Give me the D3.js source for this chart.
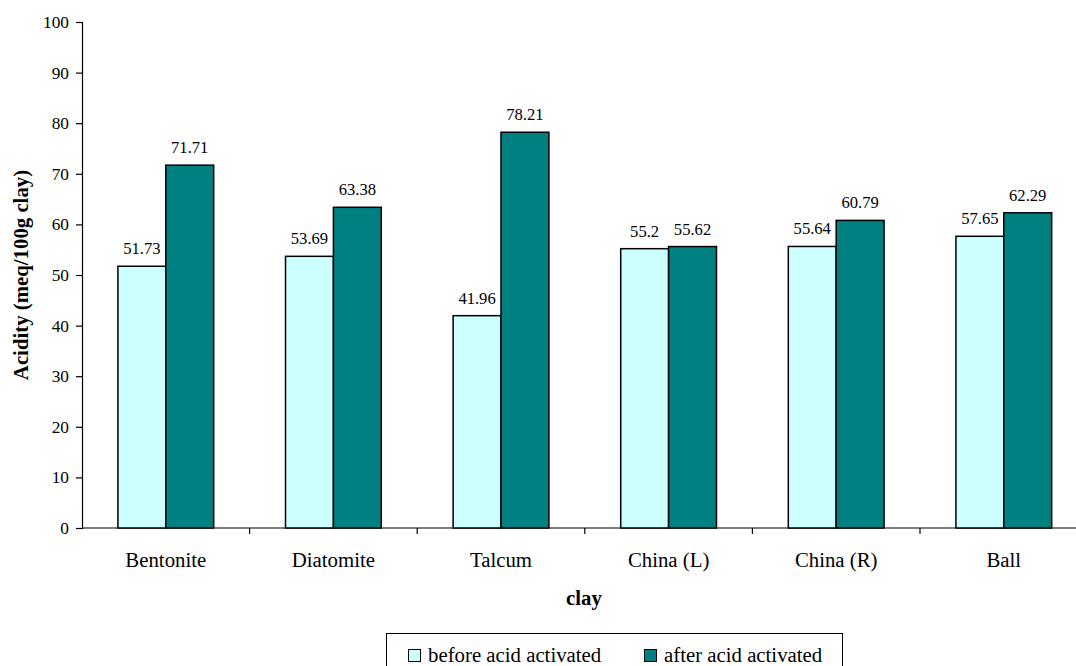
<!DOCTYPE html>
<html><head><meta charset="utf-8">
<script src="https://cdn.jsdelivr.net/npm/d3@7"></script>
<style>body{margin:0;background:#fff}svg{display:block}svg text{font-family:'Liberation Serif','DejaVu Serif',serif !important}</style>
</head><body><svg id="c" width="1076" height="666"></svg>
<script>
const categories = ["Bentonite","Diatomite","Talcum","China (L)","China (R)","Ball"];
const seriesNames = ["before acid activated","after acid activated"];
const beforeVals = [51.73,53.69,41.96,55.2,55.64,57.65];
const afterVals = [71.71,63.38,78.21,55.62,60.79,62.29];
const yTicks = [0,10,20,30,40,50,60,70,80,90,100];
const colors = ["#CCFFFF","#008080"];

(function(){
const svg = d3.select("#c");
const mLeft = 82, mTop = 22, mBottom = 528, step = 167.6;
const x0 = d3.scaleBand().domain(categories).range([mLeft, mLeft + step*categories.length]).paddingInner(0.4286).paddingOuter(0.2143);
const x1 = d3.scaleBand().domain(seriesNames).range([0, x0.bandwidth()]);
const y = d3.scaleLinear().domain([0,100]).range([mBottom, mTop]);
const rows = categories.map((c,i)=>({c, vals:[beforeVals[i], afterVals[i]]}));

// y axis
const yAxis = d3.axisLeft(y).tickValues(yTicks).tickSize(6).tickPadding(7);
const gy = svg.append("g").attr("transform",`translate(${mLeft},0)`).call(yAxis);
gy.attr("font-family",null);
gy.select(".domain").attr("stroke","#000").attr("stroke-width",1.2);
gy.selectAll(".tick line").attr("stroke","#000").attr("stroke-width",1.2);
gy.selectAll(".tick text").attr("font-size",17.3).attr("fill","#000");

// x axis line and ticks at band boundaries
svg.append("line").attr("x1",mLeft).attr("x2",1076).attr("y1",mBottom).attr("y2",mBottom).attr("stroke","#000").attr("stroke-width",1.2);
const bounds = categories.map(c => x0(c) - x0.step()*x0.paddingInner()/2 + x0.step());
svg.selectAll(".xt").data(bounds).join("line").attr("x1",d=>d).attr("x2",d=>d).attr("y1",mBottom).attr("y2",mBottom+6).attr("stroke","#000").attr("stroke-width",1.2);
svg.selectAll(".xl").data(categories).join("text").attr("x",d=>x0(d)+x0.bandwidth()/2).attr("y",567).attr("text-anchor","middle").attr("font-size",20.8).text(d=>d);

// bars
const g = svg.selectAll(".grp").data(rows).join("g").attr("transform",d=>`translate(${x0(d.c)},0)`);
g.selectAll("rect").data(d=>d.vals.map((v,i)=>({k:seriesNames[i],v,i}))).join("rect")
  .attr("x",d=>x1(d.k)).attr("width",x1.bandwidth()).attr("y",d=>y(d.v)).attr("height",d=>y(0)-y(d.v))
  .attr("fill",d=>colors[d.i]).attr("stroke","#000").attr("stroke-width",1.5);
g.selectAll(".lbl").data(d=>d.vals.map((v,i)=>({k:seriesNames[i],v,i}))).join("text")
  .attr("x",d=>x1(d.k)+x1.bandwidth()/2).attr("y",d=>y(d.v)-12).attr("text-anchor","middle").attr("font-size",16.6).text(d=>d.v);

// titles
svg.append("text").attr("transform","translate(28,275) rotate(-90)").attr("text-anchor","middle").attr("font-size",20.8).attr("font-weight","bold").text("Acidity (meq/100g clay)");
svg.append("text").attr("x",584).attr("y",605).attr("text-anchor","middle").attr("font-size",20.8).attr("font-weight","bold").text("clay");

// legend
svg.append("rect").attr("x",386.5).attr("y",633.5).attr("width",456).attr("height",60).attr("fill","#fff").attr("stroke","#000").attr("stroke-width",1);
const lx = [408, 644];
seriesNames.forEach((s,i)=>{
  svg.append("rect").attr("x",lx[i]+0.5).attr("y",649.5).attr("width",12).attr("height",12).attr("fill",colors[i]).attr("stroke","#000").attr("stroke-width",1);
  svg.append("text").attr("x",lx[i]+20).attr("y",662).attr("font-size",20.8).text(s);
});
})();
</script></body></html>
